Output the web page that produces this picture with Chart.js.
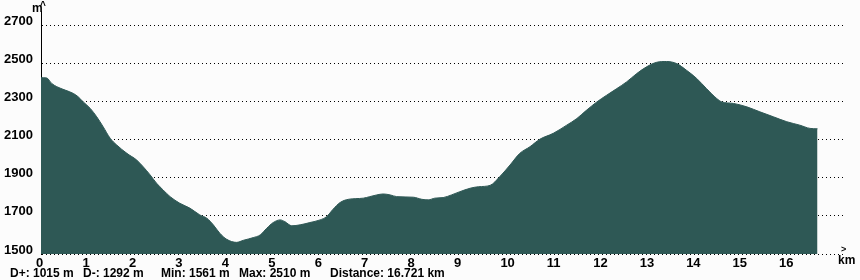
<!DOCTYPE html>
<html>
<head>
<meta charset="utf-8">
<script src="https://cdn.jsdelivr.net/npm/chart.js@4.4.1/dist/chart.umd.min.js"></script>
<style>
  html, body { margin: 0; padding: 0; background: #fcfcfc; }
  #wrap { position: relative; width: 860px; height: 280px; font-family: "Liberation Sans", Arial, sans-serif; font-weight: bold; color: #000; }
  #wrap canvas { display: block; }
  #wrap span { position: absolute; white-space: pre; }
  .stat { top: 266px; font-size: 12px; }
</style>
</head>
<body>
<div id="wrap">
  <canvas id="profile" width="860" height="280"></canvas>
  <span style="left:32px; top:1px; font-size:12px;">m</span>
  <span style="left:40px; top:0px; font-size:10px;">^</span>
  <span style="left:838px; top:253px; font-size:12px;">km</span>
  <span style="left:841px; top:244px; font-size:9px;">&gt;</span>
  <span class="stat" style="left:10px;">D+: 1015 m</span>
  <span class="stat" style="left:83px;">D-: 1292 m</span>
  <span class="stat" style="left:161px;">Min: 1561 m</span>
  <span class="stat" style="left:239px;">Max: 2510 m</span>
  <span class="stat" style="left:330px;">Distance: 16.721 km</span>
</div>
<script>
// elevation profile
const distanceKm = [0.00, 0.12, 0.23, 0.34, 0.52, 0.70, 0.80, 0.91, 1.06, 1.20, 1.34, 1.49, 1.63, 1.85,
  2.06, 2.20, 2.35, 2.49, 2.63, 2.78, 2.99, 3.21, 3.42, 3.57, 3.71, 3.85, 4.00, 4.21, 4.36, 4.57,
  4.72, 4.86, 5.00, 5.15, 5.25, 5.40, 5.58, 5.79, 6.01, 6.15, 6.29, 6.44, 6.62, 6.94, 7.08, 7.23,
  7.37, 7.52, 7.66, 8.02, 8.20, 8.34, 8.48, 8.66, 8.84, 9.02, 9.24, 9.42, 9.67, 9.88, 10.10, 10.31,
  10.53, 10.74, 11.03, 11.32, 11.54, 11.75, 11.97, 12.18, 12.40, 12.61, 12.83, 13.04, 13.26, 13.47,
  13.69, 13.90, 14.12, 14.33, 14.55, 14.66, 14.91, 15.20, 15.48, 15.77, 16.06, 16.34, 16.56, 16.721];
const elevationM = [2425, 2424, 2395, 2378, 2360, 2342, 2325, 2298, 2264, 2220, 2167, 2107, 2072, 2028,
  1993, 1958, 1915, 1871, 1836, 1801, 1766, 1740, 1705, 1688, 1653, 1609, 1577, 1561, 1572, 1586,
  1600, 1635, 1665, 1679, 1670, 1648, 1653, 1665, 1679, 1696, 1735, 1770, 1787, 1793, 1801, 1810,
  1815, 1810, 1801, 1798, 1787, 1784, 1793, 1796, 1810, 1827, 1845, 1853, 1860, 1906, 1967, 2028,
  2063, 2102, 2133, 2176, 2211, 2255, 2298, 2333, 2368, 2403, 2447, 2482, 2506, 2510,
  2499, 2464, 2421, 2368, 2316, 2298, 2290, 2272, 2246, 2220, 2194, 2176, 2159, 2157];

const xTicks = [0, 1, 2, 3, 4, 5, 6, 7, 8, 9, 10, 11, 12, 13, 14, 15, 16];
const yTicks = [1500, 1700, 1900, 2100, 2300, 2500, 2700];

const points = distanceKm.map((d, i) => ({ x: d, y: elevationM[i] }));
const tickFont = { family: '"Liberation Sans", Arial, sans-serif', size: 13, weight: 'bold' };

new Chart(document.getElementById('profile'), {
  type: 'line',
  data: {
    datasets: [{
      data: points,
      fill: 'start',
      backgroundColor: '#2e5855',
      borderColor: '#2e5855',
      borderWidth: 1,
      pointRadius: 0,
      cubicInterpolationMode: 'monotone'
    }]
  },
  options: {
    responsive: false,
    animation: false,
    devicePixelRatio: 1,
    layout: { padding: { top: 11, right: 17, left: 0, bottom: 0 } },
    plugins: { legend: { display: false }, tooltip: { enabled: false } },
    scales: {
      x: {
        type: 'linear',
        min: 0,
        max: 17.27,
        afterBuildTicks: (axis) => { axis.ticks = xTicks.map(v => ({ value: v })); },
        afterFit: (axis) => { axis.height = 26; },
        grid: { display: false, drawTicks: false },
        border: { display: false },
        ticks: { font: tickFont, color: '#000', padding: 2, align: 'start', labelOffset: -5,
          callback: (v) => String(v) }
      },
      y: {
        min: 1500,
        max: 2775,
        afterBuildTicks: (axis) => { axis.ticks = yTicks.map(v => ({ value: v })); },
        afterFit: (axis) => {
          axis.width = 41;
          // labels sit above the lines, so no overhang room needed
          axis.paddingTop = 0;
          axis.paddingBottom = 0;
        },
        grid: { color: '#000', drawTicks: false, lineWidth: 1 },
        border: { display: true, color: '#000', width: 1, dash: [1, 3] },
        ticks: { font: tickFont, color: '#000', padding: 8, labelOffset: -4,
          callback: (v) => String(v) }
      }
    }
  }
});
</script>
</body>
</html>
